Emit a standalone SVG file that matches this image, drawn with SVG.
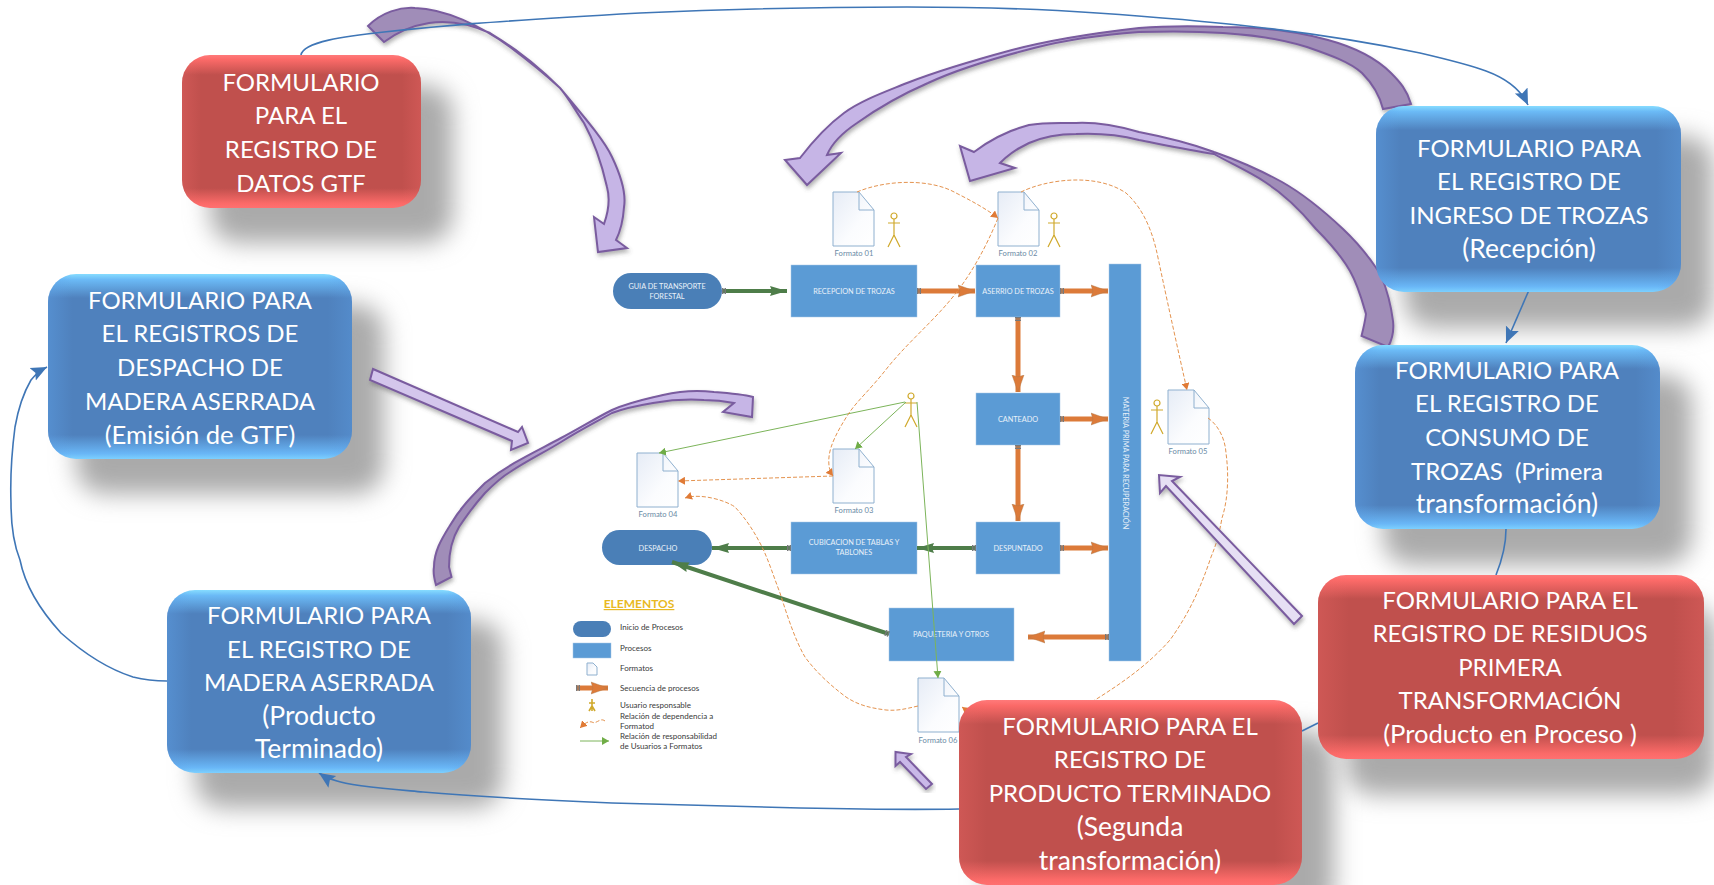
<svg xmlns="http://www.w3.org/2000/svg" width="1714" height="885" viewBox="0 0 1714 885">
<style>
text{font-family:"Lato","Open Sans","Liberation Sans",sans-serif}
.big{font-size:24px;fill:#fff;text-anchor:middle}
.lc{font-size:26.5px}
.lc2{font-size:25.6px}
.pr{font-size:7.3px;fill:#e9f1f9;text-anchor:middle}
.fm{font-size:7.6px;fill:#6a8aa5;text-anchor:middle}
.lg{font-size:8px;fill:#3a3a3a}
.proc{fill:#5b9bd5;stroke:#a9c8e6;stroke-width:.5}
.pill{fill:#4a7fb7}
.sh{fill:#aaa}
.blue{fill:url(#gBlue)}
.red{fill:url(#gRed)}
.blueS{fill:url(#gBlueS)}
.redS{fill:url(#gRedS)}
.seq{fill:none;stroke:#dc7a39;stroke-width:5;marker-end:url(#hOr);marker-start:url(#stub)}
.grn{fill:none;stroke:#4e7d49;stroke-width:4;marker-end:url(#hGr);marker-start:url(#stub)}
.thin{fill:none;stroke:#7cb45a;stroke-width:1;marker-end:url(#hTh)}
.dash{fill:none;stroke:#e4934f;stroke-width:1;stroke-dasharray:4 2;marker-end:url(#hDa)}
.bl{fill:none;stroke:#3f76b6;stroke-width:1.6}
.ba{marker-end:url(#hBl)}
.pu{stroke:#7a5c9f;stroke-width:2;filter:url(#ds)}
.docb{fill:url(#gDoc);stroke:#8fb0cf;stroke-width:1}
.act{fill:none;stroke:#d0a92c;stroke-width:1.2}
</style>
<defs>
<linearGradient id="gBlue" x1="0" y1="0" x2="0" y2="1"><stop offset="0" stop-color="#86dcff"/><stop offset=".03" stop-color="#6bbaf6"/><stop offset=".13" stop-color="#4f81bd"/><stop offset=".87" stop-color="#4f81bd"/><stop offset=".97" stop-color="#69b6f6"/><stop offset="1" stop-color="#7cd0ff"/></linearGradient>
<linearGradient id="gRed" x1="0" y1="0" x2="0" y2="1"><stop offset="0" stop-color="#ff7a7a"/><stop offset=".03" stop-color="#fb6a68"/><stop offset=".13" stop-color="#c0504d"/><stop offset=".87" stop-color="#c0504d"/><stop offset=".97" stop-color="#fb6a68"/><stop offset="1" stop-color="#ff7070"/></linearGradient>
<linearGradient id="gBlueS" x1="0" y1="0" x2="1" y2="0"><stop offset="0" stop-color="#5fa3ea" stop-opacity=".4"/><stop offset=".08" stop-color="#5fa3ea" stop-opacity="0"/><stop offset=".92" stop-color="#5fa3ea" stop-opacity="0"/><stop offset="1" stop-color="#5fa3ea" stop-opacity=".3"/></linearGradient>
<linearGradient id="gRedS" x1="0" y1="0" x2="1" y2="0"><stop offset="0" stop-color="#f06a68" stop-opacity=".3"/><stop offset=".08" stop-color="#f06a68" stop-opacity="0"/><stop offset=".92" stop-color="#f06a68" stop-opacity="0"/><stop offset="1" stop-color="#f06a68" stop-opacity=".3"/></linearGradient>
<linearGradient id="gDoc" x1="0" y1="0" x2="1" y2="1"><stop offset="0" stop-color="#e6ecf6"/><stop offset=".6" stop-color="#fbfcfe"/><stop offset="1" stop-color="#fff"/></linearGradient>
<linearGradient id="pA" gradientUnits="userSpaceOnUse" x1="380" y1="30" x2="610" y2="240"><stop offset="0" stop-color="#a08db8"/><stop offset=".42" stop-color="#a08db8"/><stop offset=".6" stop-color="#c6b5e6"/><stop offset="1" stop-color="#c6b5e6"/></linearGradient>
<linearGradient id="pB" gradientUnits="userSpaceOnUse" x1="1400" y1="60" x2="800" y2="160"><stop offset="0" stop-color="#a08db8"/><stop offset=".45" stop-color="#a08db8"/><stop offset=".6" stop-color="#c6b5e6"/><stop offset="1" stop-color="#c6b5e6"/></linearGradient>
<linearGradient id="pC" gradientUnits="userSpaceOnUse" x1="1380" y1="340" x2="980" y2="150"><stop offset="0" stop-color="#a08db8"/><stop offset=".42" stop-color="#a08db8"/><stop offset=".58" stop-color="#c6b5e6"/><stop offset="1" stop-color="#c6b5e6"/></linearGradient>
<linearGradient id="pD" gradientUnits="userSpaceOnUse" x1="440" y1="580" x2="750" y2="400"><stop offset="0" stop-color="#a08db8"/><stop offset=".28" stop-color="#a08db8"/><stop offset=".55" stop-color="#c6b5e6"/><stop offset="1" stop-color="#c6b5e6"/></linearGradient>
<filter id="blur" x="-30%" y="-30%" width="160%" height="160%"><feGaussianBlur stdDeviation="12"/></filter>
<filter id="ds" x="-10%" y="-10%" width="120%" height="120%"><feDropShadow dx="1" dy="3" stdDeviation="2" flood-color="#555" flood-opacity=".45"/></filter>
<marker id="hOr" markerUnits="userSpaceOnUse" markerWidth="18" markerHeight="14" refX="17" refY="7" orient="auto"><path d="M0,1 L17,7 L0,13 L2,7Z" fill="#dc7a39" stroke="#a8784f" stroke-width=".4"/></marker>
<marker id="hGr" markerUnits="userSpaceOnUse" markerWidth="18" markerHeight="12" refX="17" refY="6" orient="auto"><path d="M0,1 L17,6 L0,11 L2,6Z" fill="#4e7d49"/></marker>
<marker id="stub" markerUnits="userSpaceOnUse" markerWidth="5" markerHeight="8" refX="0" refY="4" orient="auto"><path d="M0,1 H1.5 V7 H0Z M2.5,1 H4 V7 H2.5Z" fill="#77787a"/></marker>
<marker id="hTh" markerUnits="userSpaceOnUse" markerWidth="8" markerHeight="8" refX="7" refY="4" orient="auto"><path d="M0,0 L7,4 L0,8Z" fill="#70ad47"/></marker>
<marker id="hDa" markerUnits="userSpaceOnUse" markerWidth="8" markerHeight="8" refX="7" refY="4" orient="auto"><path d="M0,0 L7,4 L0,8Z" fill="#e07b36"/></marker>
<marker id="hBl" markerUnits="userSpaceOnUse" markerWidth="17" markerHeight="16" refX="16" refY="8" orient="auto"><path d="M0,1 L16,8 L0,15 L3,8Z" fill="#3f76b6"/></marker>
<g id="docShape"><path class="docb" d="M0,0 H26 L41,18 V54 H0Z"/><path d="M26,0 V18 H41" fill="none" stroke="#8fb0cf"/></g>
<g id="actorShape" class="act"><circle cx="0" cy="3" r="3"/><path d="M0,6 V22 M-6,10 H6 M0,22 L-6,34 M0,22 L6,34"/></g>
</defs>
<rect width="1714" height="885" fill="#fff"/>
<g id="shadows">
<rect class="sh" filter="url(#blur)" x="210" y="85" width="243" height="158" rx="28"/>
<rect class="sh" filter="url(#blur)" x="76" y="304" width="308" height="190" rx="28"/>
<rect class="sh" filter="url(#blur)" x="195" y="620" width="308" height="188" rx="28"/>
<rect class="sh" filter="url(#blur)" x="1404" y="136" width="309" height="192" rx="28"/>
<rect class="sh" filter="url(#blur)" x="1383" y="375" width="309" height="190" rx="28"/>
<rect class="sh" filter="url(#blur)" x="1346" y="605" width="370" height="190" rx="28"/>
<rect class="sh" filter="url(#blur)" x="987" y="730" width="347" height="190" rx="28"/>
</g>
<g id="guia"><rect class="pill" x="613" y="273" width="109" height="36" rx="18"/><text class="pr" x="667" y="289">GUIA DE TRANSPORTE</text><text class="pr" x="667" y="299">FORESTAL</text></g>
<g id="recepcion"><rect class="proc" x="791" y="265" width="126" height="52"/><text class="pr" x="854" y="294">RECEPCION DE TROZAS</text></g>
<g id="aserrio"><rect class="proc" x="976" y="265" width="84" height="52"/><text class="pr" x="1018" y="294">ASERRIO DE TROZAS</text></g>
<g id="materia"><rect class="proc" x="1109" y="264" width="32" height="397"/><text class="pr" transform="translate(1122.5,463) rotate(90)">MATERIA PRIMA PARA RECUPERACIÓN</text></g>
<g id="canteado"><rect class="proc" x="976" y="393" width="84" height="52"/><text class="pr" x="1018" y="422">CANTEADO</text></g>
<g id="despuntado"><rect class="proc" x="976" y="522" width="84" height="52"/><text class="pr" x="1018" y="551">DESPUNTADO</text></g>
<g id="cubicacion"><rect class="proc" x="791" y="522" width="126" height="52"/><text class="pr" x="854" y="545">CUBICACION DE TABLAS Y</text><text class="pr" x="854" y="555">TABLONES</text></g>
<g id="despacho"><rect class="pill" x="602" y="530" width="110" height="35" rx="17.5"/><text class="pr" x="658" y="551">DESPACHO</text></g>
<g id="paqueteria"><rect class="proc" x="889" y="608" width="125" height="53"/><text class="pr" x="951" y="637">PAQUETERIA Y OTROS</text></g>
<g id="formato01"><use href="#docShape" x="833" y="192"/><text class="fm" x="854" y="256">Formato 01</text></g>
<g id="formato02"><use href="#docShape" x="998" y="192"/><text class="fm" x="1018" y="256">Formato 02</text></g>
<g id="formato03"><use href="#docShape" x="833" y="449"/><text class="fm" x="854" y="513">Formato 03</text></g>
<g id="formato04"><use href="#docShape" x="637" y="453"/><text class="fm" x="658" y="517">Formato 04</text></g>
<g id="formato05"><use href="#docShape" x="1168" y="390"/><text class="fm" x="1188" y="454">Formato 05</text></g>
<g id="formato06"><use href="#docShape" x="918" y="678"/><text class="fm" x="938" y="743">Formato 06</text></g>
<g id="usuario1"><use href="#actorShape" x="894" y="213"/></g>
<g id="usuario2"><use href="#actorShape" x="1054" y="213"/></g>
<g id="usuario3"><use href="#actorShape" x="911" y="393"/></g>
<g id="usuario5"><use href="#actorShape" x="1157" y="400"/></g>
<g id="leyenda">
<text x="639" y="608" text-anchor="middle" font-size="12" font-weight="700" fill="#e8b923" text-decoration="underline">ELEMENTOS</text>
<rect class="pill" x="573" y="621" width="38" height="16" rx="8"/><text class="lg" x="620" y="630">Inicio de Procesos</text>
<rect class="proc" x="573" y="643" width="38" height="15"/><text class="lg" x="620" y="651">Procesos</text>
<path class="docb" d="M587,663 H593 L597,667 V675 H587Z"/><text class="lg" x="620" y="671">Formatos</text>
<path class="seq" d="M576,688 H608"/><text class="lg" x="620" y="691">Secuencia de procesos</text>
<path d="M592,699 V711 M589,703 H595 M592,706 L589,711 M592,706 L595,711" fill="none" stroke="#d0a92c" stroke-width="1.6"/><text class="lg" x="620" y="708">Usuario responsable</text>
<path class="dash" d="M605,721 C600,717 596,725 592,722 C588,721 585,723 580,728"/><text class="lg" x="620" y="719">Relación de dependencia a</text><text class="lg" x="620" y="729">Formatod</text>
<path class="thin" d="M580,741 H609"/><text class="lg" x="620" y="739">Relación de responsabilidad</text><text class="lg" x="620" y="749">de Usuarios a Formatos</text>
</g>
<g id="flow-connectors">
<path class="grn" d="M722,291 H787"/>
<path class="seq" d="M917,291 H975"/>
<path class="seq" d="M1060,291 H1108"/>
<path class="seq" d="M1018,317 V392"/>
<path class="seq" d="M1060,419 H1108"/>
<path class="seq" d="M1018,445 V521"/>
<path class="seq" d="M1060,548 H1108"/>
<path class="seq" d="M1109,637 H1028"/>
<path class="grn" d="M976,548 H917"/>
<path class="grn" d="M791,548 H712"/>
<path class="grn" d="M889,634 L672,562"/>
<path class="thin" d="M905,402 L659,453"/>
<path class="thin" d="M906,402 L855,449"/>
<path class="thin" d="M917,402 L938,678"/>
<path class="dash" d="M857,192 C885,180 930,178 956,193 C972,201 988,210 998,218"/>
<path class="dash" d="M1021,192 C1045,180 1095,172 1126,193 C1145,210 1153,235 1157,253 C1168,305 1178,350 1187,390"/>
<path class="dash" d="M998,218 C985,250 970,275 956,293 C935,320 910,340 888,367 C870,390 858,400 849,413 C838,430 830,445 829,457 C828,466 830,472 833,476"/>
<path class="dash" d="M833,476 L678,481"/>
<path class="dash" d="M918,706 C905,709 897,711 886,710 C870,708 858,705 846,697 C830,685 816,672 805,657 C795,640 787,615 780,593 C773,575 768,558 760,543 C752,528 745,518 735,507 C725,500 700,493 685,498"/>
<path class="dash" d="M1208,418 C1218,425 1225,438 1226,453 C1229,475 1228,500 1222,518 C1219,535 1216,545 1211,557 C1200,590 1188,615 1170,640 C1148,665 1122,683 1095,700 C1060,722 1000,735 962,707"/>
</g>
<g id="connectors">
<path class="pu" fill="url(#pA)" d="M368,26 C382,12 400,7 415,8 C445,9 480,25 510,47 C530,62 548,77 560,88 C585,118 604,140 612,157 C622,178 626,195 624,207 C623,222 620,232 616,240 L627,248 L598,252 L594,217 L604,224 C609,210 610,198 607,187 C602,165 595,143 584,123 C575,110 568,97 560,88 C540,68 515,48 490,33 C470,24 450,20 429,23 C410,26 396,33 384,42 Z"/>
<path class="pu" fill="url(#pB)" d="M1411,104 C1407,90 1400,82 1391,73 C1375,57 1350,46 1328,40 C1295,31 1260,27 1223,27 C1195,26 1165,26 1139,28 C1095,33 1050,40 1012,50 C975,60 940,70 907,83 C885,92 862,100 844,113 C825,127 810,145 800,158 L785,160 L807,185 L841,153 L827,155 C832,143 845,131 857,123 C878,108 905,93 928,83 C960,68 995,58 1034,48 C1065,40 1100,35 1139,32 C1170,31 1195,31 1223,33 C1255,35 1285,40 1307,47 C1330,55 1350,62 1362,73 C1372,83 1380,97 1383,109 Z"/>
<path class="pu" fill="url(#pC)" d="M1388,347 C1393,338 1394,330 1393,321 C1391,305 1387,290 1381,275 C1370,258 1358,243 1343,229 C1325,212 1305,195 1282,182 C1260,170 1237,160 1214,152 C1190,143 1165,137 1139,132 C1118,126 1097,122 1076,123 C1060,123 1045,122 1029,125 C1010,130 990,140 974,152 L960,146 L970,181 L1015,168 L1000,163 C1008,155 1018,148 1029,143 C1045,136 1060,134 1076,134 C1097,133 1120,135 1139,140 C1165,145 1190,150 1214,154 C1232,164 1250,172 1265,182 C1285,195 1302,212 1316,229 C1330,243 1342,257 1350,271 C1358,285 1362,300 1366,314 C1365,322 1363,330 1361.5,336 Z"/>
<path class="pu" fill="url(#pD)" d="M436,585 C434,578 433,572 434,567 C434,552 441,540 449,527 C460,508 472,496 485,483 C510,463 535,452 561,438 C580,428 596,418 612,410 C630,402 642,400 663,395 C680,391 698,390 714,392 C728,393 742,394 753,397 L752,417 L723,412 L734,403 C724,401 714,400 704,400 C688,399 670,400 653,403 C635,406 625,408 612,413 C596,422 580,430 561,442 C545,452 528,460 510,472 C500,478 493,485 485,493 C475,504 467,515 459,527 C453,537 449,550 449,567 L451.5,577 Z"/>
<path class="pu" fill="#d4c6ec" d="M373,369 L518,432 L522,427 L528,443 L511,450 L512,441 L370,380 Z"/>
<path class="pu" fill="#e6dff4" d="M1302,616 L1172,481 L1180,477 L1159,475 L1160,493 L1166,486 L1294,624 Z"/>
<path class="pu" fill="#c9b8e8" d="M932,784 L906,757 L911,754 L895.5,752 L895.5,766 L900,762 L926,789 Z"/>
<path class="bl ba" d="M301,55 C303,42 345,36 384,32 C440,26 480,22 640,13 C730,9 820,7 907,7 C960,7 1040,9 1097,13 C1200,20 1310,30 1420,53 C1450,60 1470,65 1486,71 C1505,78 1520,88 1528,105"/>
<path class="bl ba" d="M1529,290 L1506,343"/>
<path class="bl" d="M1506,529 C1506,545 1502,560 1496,575"/>
<path class="bl" d="M1318,723 L1302,731"/>
<path class="bl ba" d="M959,809 C900,810 850,809 800,808 C730,806 670,805 612,803 C540,800 480,797 423,792 C390,789 350,786 337,781 C330,779 325,777 319,773"/>
<path class="bl ba" d="M167,681 C155,681 145,680 133,677 C105,668 80,650 61,633 C40,610 25,585 20,560 C12,540 11,520 11,503 C10,475 12,450 15,427 C18,410 24,392 31,380 C35,375 41,370 47,367"/>
</g>
<g id="form-gtf"><rect class="red" x="182" y="55" width="239" height="153" rx="28"/><rect class="redS" x="182" y="55" width="239" height="153" rx="28"/>
<text class="big" x="301" y="90.5">FORMULARIO</text><text class="big" x="301" y="124">PARA EL</text><text class="big" x="301" y="158">REGISTRO DE</text><text class="big" x="301" y="191.5">DATOS GTF</text></g>
<g id="form-despacho"><rect class="blue" x="48" y="274" width="304" height="185" rx="28"/><rect class="blueS" x="48" y="274" width="304" height="185" rx="28"/>
<text class="big" x="200" y="308.5">FORMULARIO PARA</text><text class="big" x="200" y="342">EL REGISTROS DE</text><text class="big" x="200" y="376">DESPACHO DE</text><text class="big" x="200" y="410">MADERA ASERRADA</text><text class="big lc2" x="200" y="443.5">(Emisión de GTF)</text></g>
<g id="form-madera"><rect class="blue" x="167" y="590" width="304" height="183" rx="28"/><rect class="blueS" x="167" y="590" width="304" height="183" rx="28"/>
<text class="big" x="319" y="624">FORMULARIO PARA</text><text class="big" x="319" y="657.5">EL REGISTRO DE</text><text class="big" x="319" y="691">MADERA ASERRADA</text><text class="big lc" x="319" y="725">(Producto</text><text class="big lc" x="319" y="758">Terminado)</text></g>
<g id="form-ingreso"><rect class="blue" x="1376" y="106" width="305" height="186" rx="28"/><rect class="blueS" x="1376" y="106" width="305" height="186" rx="28"/>
<text class="big" x="1529" y="156.5">FORMULARIO PARA</text><text class="big" x="1529" y="190">EL REGISTRO DE</text><text class="big" x="1529" y="224">INGRESO DE TROZAS</text><text class="big lc" x="1529" y="258">(Recepción)</text></g>
<g id="form-consumo"><rect class="blue" x="1355" y="345" width="305" height="184" rx="28"/><rect class="blueS" x="1355" y="345" width="305" height="184" rx="28"/>
<text class="big" x="1507" y="378.5">FORMULARIO PARA</text><text class="big" x="1507" y="412">EL REGISTRO DE</text><text class="big" x="1507" y="446">CONSUMO DE</text><text class="big" x="1507" y="480">TROZAS &#160;(Primera</text><text class="big lc" x="1507" y="513">transformación)</text></g>
<g id="form-residuos"><rect class="red" x="1318" y="575" width="386" height="184" rx="28"/><rect class="redS" x="1318" y="575" width="386" height="184" rx="28"/>
<text class="big" x="1510" y="608.5">FORMULARIO PARA EL</text><text class="big" x="1510" y="642">REGISTRO DE RESIDUOS</text><text class="big" x="1510" y="675.5">PRIMERA</text><text class="big" x="1510" y="709">TRANSFORMACIÓN</text><text class="big lc2" x="1510" y="742.5">(Producto en Proceso )</text></g>
<g id="form-terminado"><rect class="red" x="959" y="700" width="343" height="185" rx="28"/><rect class="redS" x="959" y="700" width="343" height="185" rx="28"/>
<text class="big" x="1130" y="734.5">FORMULARIO PARA EL</text><text class="big" x="1130" y="768">REGISTRO DE</text><text class="big" x="1130" y="802">PRODUCTO TERMINADO</text><text class="big lc" x="1130" y="836">(Segunda</text><text class="big lc" x="1130" y="869.5">transformación)</text></g>
</svg>
